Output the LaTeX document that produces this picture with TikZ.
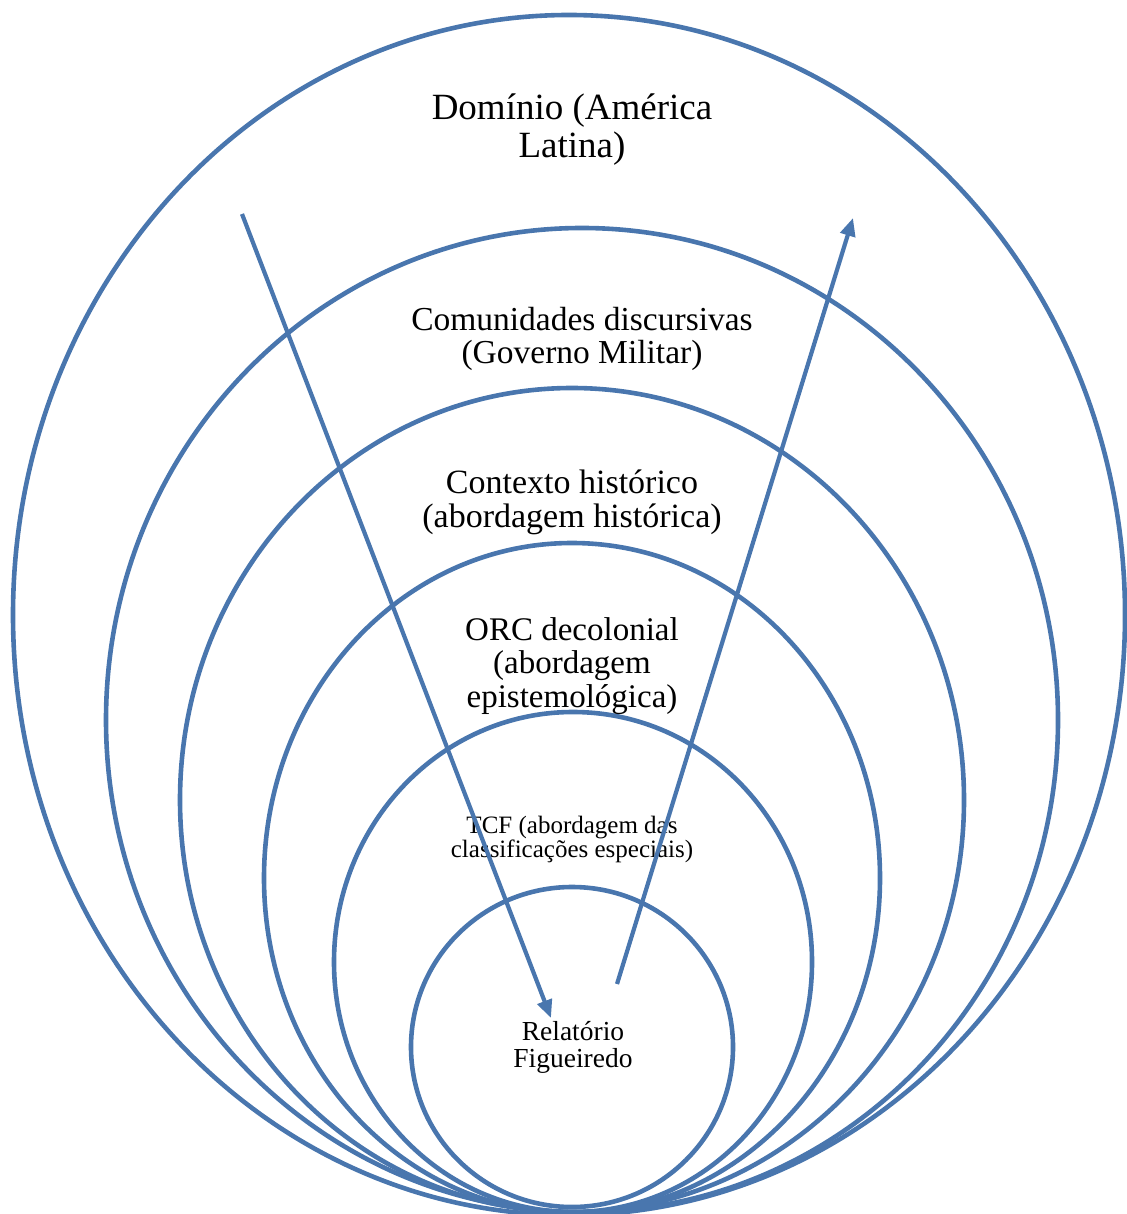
\documentclass[tikz,border=0pt]{standalone}
\usepackage{fontspec}
\setmainfont{Liberation Serif}
\usetikzlibrary{arrows.meta}
\definecolor{ringblue}{RGB}{73,118,174}
\begin{document}
\begin{tikzpicture}[x=1pt,y=-1pt,
  ring/.style={draw=ringblue,line width=4.6pt},
  flow/.style={draw=ringblue,line width=4.2pt,-{Triangle[length=18pt,width=15pt]}},
  lbl/.style={align=center,anchor=base,inner sep=0pt,text=black}]
\useasboundingbox (0,0) rectangle (1126,1214);
% rings
\draw[ring] (569,615) ellipse [x radius=556pt, y radius=600pt];
\draw[ring] (582,720) ellipse [x radius=476pt, y radius=492pt];
\draw[ring] (572,800) ellipse [x radius=392pt, y radius=412pt];
\draw[ring] (572,878) ellipse [x radius=308pt, y radius=335pt];
\draw[ring] (573,962) ellipse [x radius=239pt, y radius=250pt];
\draw[ring] (572,1047) ellipse [x radius=161pt, y radius=160pt];
% labels (anchored at the baseline of the last line)
\node[lbl,font=\fontsize{37}{38}\selectfont] (dom) at (572,158) {Domínio (América\\Latina)};
\node[lbl,font=\fontsize{33.5}{33}\selectfont] (com) at (582,363) {Comunidades discursivas\\(Governo Militar)};
\node[lbl,font=\fontsize{34}{34}\selectfont] (ctx) at (572,527) {Contexto histórico\\(abordagem histórica)};
\node[lbl,font=\fontsize{33}{33.5}\selectfont] (orc) at (572,707) {ORC decolonial\\(abordagem\\epistemológica)};
\node[lbl,font=\fontsize{25}{24}\selectfont] (tcf) at (572,857) {TCF (abordagem das\\classificações especiais)};
\node[lbl,font=\fontsize{27.5}{27}\selectfont] (rel) at (573,1067) {Relatório\\Figueiredo};
% arrows
\coordinate (inS) at (242,214);
\coordinate (inE) at (551,1018);
\coordinate (outS) at (617,984);
\coordinate (outE) at (853,218);
\draw[flow] (inS) -- (inE);
\draw[flow] (outS) -- (outE);
\end{tikzpicture}
\end{document}
